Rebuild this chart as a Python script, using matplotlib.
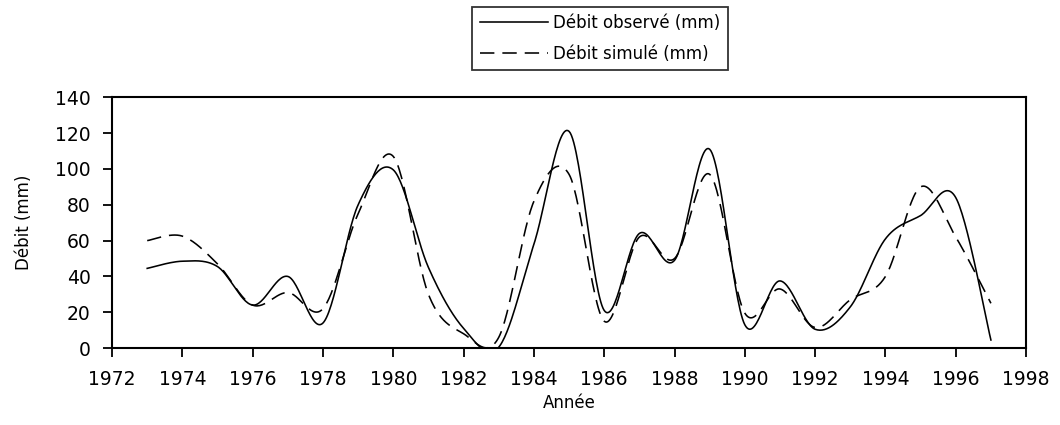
import numpy as np
import matplotlib
matplotlib.use('Agg')
import matplotlib.pyplot as plt

# annual values (mm)
annees = list(range(1973, 1998))
debit_observe = [44.5, 48.5, 45.5, 24, 40, 14, 80, 99.5, 45, 11, 0.5, 58, 121,
                 21, 64, 49, 111, 13, 37.5, 10.5, 23, 61, 74, 84, 4.5]
debit_simule = [60, 62.5, 47, 24, 31, 22, 75, 107, 30, 8, 6, 82, 97,
                15, 62, 50, 97, 19.5, 33, 11.5, 27, 40, 90, 62, 25]


def lisser(x, y, n=30):
    # Excel-style smoothed line: Catmull-Rom through every data point
    x = np.asarray(x, float)
    y = np.asarray(y, float)
    px = np.concatenate([[x[0]], x, [x[-1]]])
    py = np.concatenate([[y[0]], y, [y[-1]]])
    xs, ys = [], []
    t = np.linspace(0, 1, n, endpoint=False)
    for i in range(1, len(px) - 2):
        p0, p1, p2, p3 = px[i-1:i+3]
        q0, q1, q2, q3 = py[i-1:i+3]
        b1x, b1y = p1 + (p2 - p0) / 6, q1 + (q2 - q0) / 6
        b2x, b2y = p2 - (p3 - p1) / 6, q2 - (q3 - q1) / 6
        xs.append((1-t)**3*p1 + 3*(1-t)**2*t*b1x + 3*(1-t)*t**2*b2x + t**3*p2)
        ys.append((1-t)**3*q1 + 3*(1-t)**2*t*b1y + 3*(1-t)*t**2*b2y + t**3*q2)
    xs.append([x[-1]])
    ys.append([y[-1]])
    return np.concatenate(xs), np.concatenate(ys)


plt.rcParams['font.family'] = ['DejaVu Sans']

fig = plt.figure(figsize=(10.6, 4.25), dpi=100)
ax = fig.add_axes([0.1057, 0.181, 0.8623, 0.590])

xo, yo = lisser(annees, debit_observe)
xs, ys = lisser(annees, debit_simule)
ax.plot(xo, yo, color='black', lw=1.15, label='Débit observé (mm)')
ax.plot(xs, ys, color='black', lw=1.15, ls=(0, (9, 5)), label='Débit simulé (mm)')

ax.set_xlim(1972, 1998)
ax.set_ylim(0, 140)
ax.set_xticks(range(1972, 1999, 2))
ax.set_yticks(range(0, 141, 20))
ax.tick_params(direction='out', length=6.5, width=1.3, labelsize=13.5, colors='black')
ax.tick_params(axis='x', pad=9)
ax.tick_params(axis='y', pad=9)
for s in ax.spines.values():
    s.set_linewidth(1.5)

ax.set_xlabel('Année', fontsize=12)
ax.set_ylabel('Débit (mm)', fontsize=12)
ax.xaxis.set_label_coords(0.5, -0.185)
ax.yaxis.set_label_coords(-0.086, 0.5)

leg = fig.legend(loc='upper center', bbox_to_anchor=(0.566, 0.984), fontsize=12,
                 frameon=True, fancybox=False, edgecolor='black', handlelength=4.1,
                 handletextpad=0.3, borderpad=0.45, labelspacing=0.75, borderaxespad=0)
leg.get_frame().set_linewidth(1.3)

fig.savefig('out.png', dpi=100)
